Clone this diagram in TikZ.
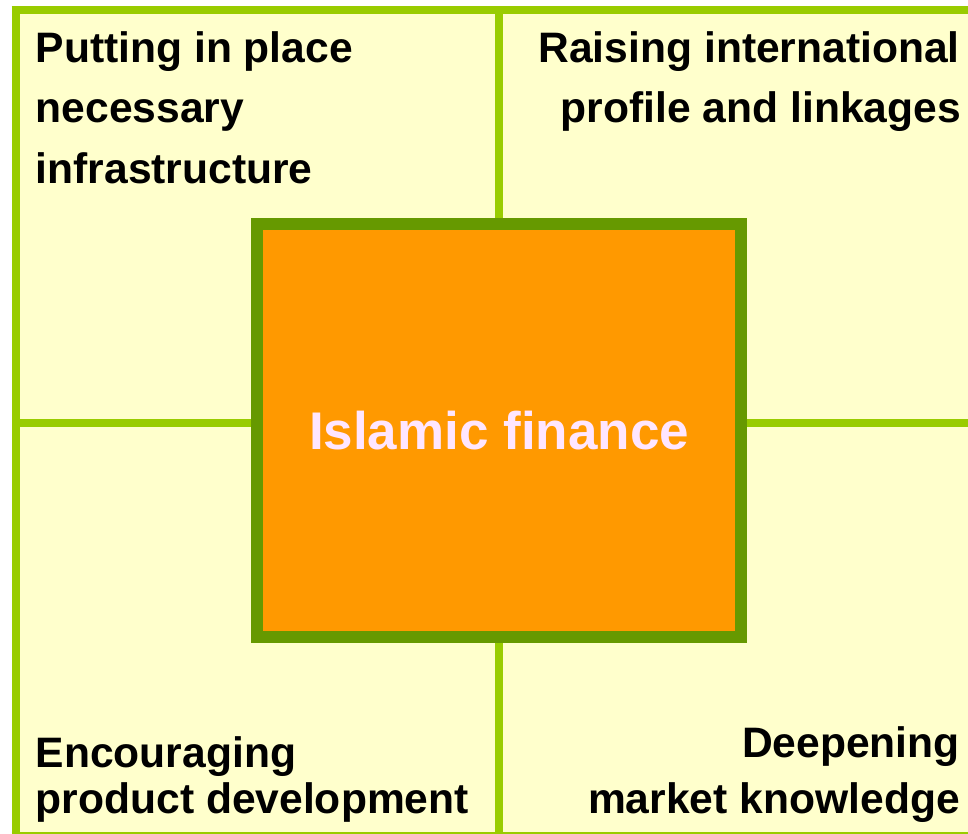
\documentclass[tikz,border=0pt]{standalone}
\usepackage{fontspec}
\setmainfont{Liberation Sans}
\usepackage{xcolor}
\definecolor{paleyellow}{HTML}{FFFFCC}
\definecolor{limegreen}{HTML}{99CC00}
\definecolor{darkgreen}{HTML}{669900}
\definecolor{boxorange}{HTML}{FF9900}
\definecolor{palepink}{HTML}{FFE6FF}
\tikzset{
	label/.style={inner sep=0pt, font=\fontsize{42.6}{50}\selectfont\bfseries, text=black},
	grid/.style={draw=limegreen, line width=8pt},
	core/.style={draw=darkgreen, fill=boxorange, line width=12pt, minimum width=484pt, minimum height=413pt, inner sep=0pt, font=\fontsize{53}{60}\selectfont\bfseries, text=palepink}
}

\begin{document}
\begin{tikzpicture}[x=1pt,y=-1pt]

	\useasboundingbox (0,0) rectangle (968,833);
	\clip (0,0) rectangle (968,833);
	\fill[white] (0,0) rectangle (968,833);

	% quadrants
	\fill[paleyellow] (15.5,10) rectangle (1000,900);
	\draw[grid] (15.5,10) -- (15.5,900);
	\draw[grid] (11.5,10) -- (1000,10);
	\draw[grid] (499,10) -- (499,900);
	\draw[grid] (15.5,423) -- (1000,423);
	\draw[grid] (11.5,836) -- (1000,836);

	% centre box
	\node[core] (islamic) at (499,430.5) {Islamic finance};

	% top left
	\node[label, anchor=base west] (infra1) at (35.5,62) {Putting in place};
	\node[label, anchor=base west] (infra2) at (35.5,122.5) {necessary};
	\node[label, anchor=base west] (infra3) at (35.5,183) {infrastructure};

	% top right
	\node[label, anchor=base east] (profile1) at (960,62) {Raising international};
	\node[label, anchor=base east] (profile2) at (961,122.5) {profile and linkages};

	% bottom left
	\node[label, anchor=base west] (product1) at (35.5,767) {Encouraging};
	\node[label, anchor=base west] (product2) at (35.5,813) {product development};

	% bottom right
	\node[label, anchor=base east] (market1) at (960,757) {Deepening};
	\node[label, anchor=base east] (market2) at (960,813) {market knowledge};
\end{tikzpicture}
\end{document}
